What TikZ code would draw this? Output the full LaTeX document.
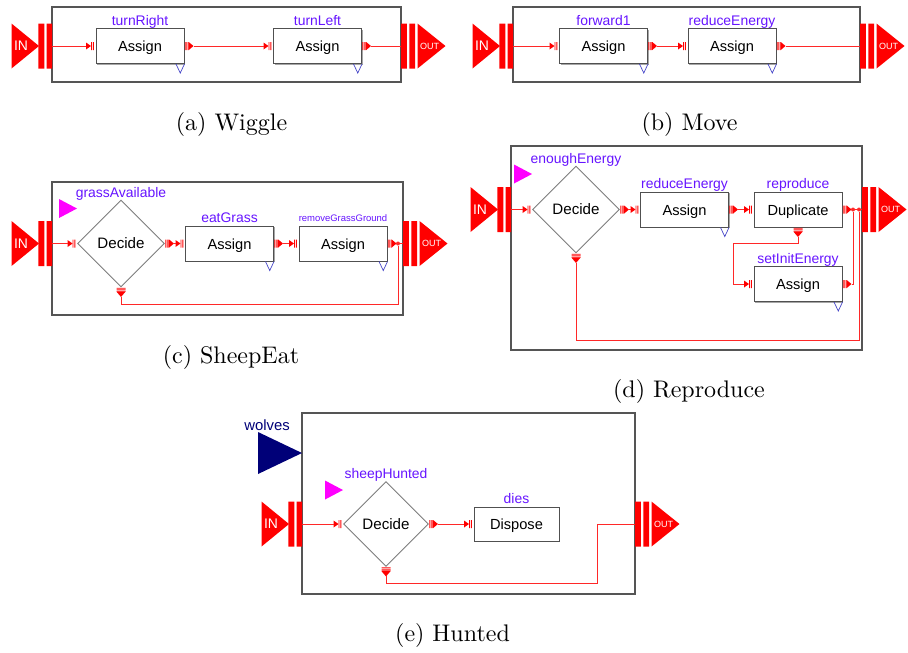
\documentclass[tikz,border=0pt]{standalone}
\usepackage{fontspec}
\newfontfamily\hvsans{Liberation Sans}
\usetikzlibrary{shapes.geometric,shadows}

\definecolor{portred}{RGB}{255,0,0}
\definecolor{wirered}{RGB}{255,40,40}
\definecolor{lblviolet}{RGB}{102,20,255}
\definecolor{framegray}{RGB}{85,85,85}
\definecolor{boxgray}{RGB}{80,80,80}
\definecolor{diagray}{RGB}{125,125,125}
\definecolor{navyport}{RGB}{0,0,120}
\definecolor{agentmag}{RGB}{255,0,255}
\definecolor{cornerblue}{RGB}{70,70,200}

% one drawing unit = one pixel of the 908 x 652 canvas
\newcommand\pxu{0.41667pt}

\tikzset{
  wire/.style={draw=wirered,line width=0.9*\pxu},
  framebox/.style={draw=framegray,line width=1.2*\pxu},
  blk/.style={rectangle,draw=boxgray,fill=white,line width=1*\pxu,
    minimum width=88*\pxu,minimum height=35*\pxu,inner sep=0pt,
    text height=6.1pt,text depth=1.25pt,
    drop shadow={shadow xshift=0.42pt,shadow yshift=-0.42pt,fill=black!35,opacity=1},
    font=\hvsans\fontsize{6.1}{7}\selectfont},
  dnode/.style={diamond,aspect=1,draw=diagray,fill=white,line width=0.9*\pxu,
    minimum width=87*\pxu,minimum height=87*\pxu,inner sep=0pt,
    font=\hvsans\fontsize{6.3}{7}\selectfont},
  lbl/.style={text=lblviolet,anchor=base,inner sep=0pt,
    font=\hvsans\fontsize{5.8}{6}\selectfont},
  captxt/.style={anchor=base,inner sep=0pt,font=\fontsize{10}{12}\selectfont},
  jdot/.style={circle,fill=wirered,inner sep=0pt,minimum size=4*\pxu},
  % small input port: arrow head followed by two bars
  inport/.pic={
    \fill[portred] (-9.5,-3.5) -- (-4.5,0) -- (-9.5,3.5) -- cycle;
    \fill[portred] (-4.5,-4) rectangle (-3.6,4) (-2.6,-4) rectangle (-1.7,4);
    \coordinate (-w) at (-9.5,0);
  },
  % small output port: three bars followed by an arrow head
  outport/.pic={
    \fill[portred] (0.4,-4) rectangle (1.2,4) (1.9,-4) rectangle (2.7,4)
                   (3.4,-4) rectangle (4.2,4);
    \fill[portred] (4.2,-4) -- (9,0) -- (4.2,4) -- cycle;
    \coordinate (-e) at (9,0);
  },
  % output port pointing down
  downport/.pic={
    \fill[portred] (-4.5,0.4) rectangle (4.5,1.2) (-4.5,1.9) rectangle (4.5,2.7)
                   (-4.5,3.4) rectangle (4.5,4.2);
    \fill[portred] (-4.5,4.2) -- (0,9.5) -- (4.5,4.2) -- cycle;
    \coordinate (-s) at (0,9.5);
  },
  % big IN connector on the left side of a frame
  inblock/.pic={
    \fill[portred] (-40.5,-22.5) -- (-13,0) -- (-40.5,22.5) -- cycle;
    \fill[portred] (-13.7,-22.5) rectangle (-7.7,22.5) (-5.3,-22.5) rectangle (0,22.5);
    \node[text=white,inner sep=0pt,font=\hvsans\fontsize{5.8}{6}\selectfont] at (-31,0) {IN};
    \coordinate (-e) at (0,0);
  },
  % big OUT connector on the right side of a frame
  outblock/.pic={
    \fill[portred] (0,-22.5) rectangle (5.8,22.5) (8.3,-22.5) rectangle (14,22.5);
    \fill[portred] (16.5,-22.5) -- (44.5,0) -- (16.5,22.5) -- cycle;
    \node[text=white,inner sep=0pt,font=\hvsans\fontsize{3.75}{4}\selectfont] at (28.5,0) {OUT};
    \coordinate (-w) at (0,0);
  },
  % open triangle under the lower right corner of a block
  corner/.pic={
    \draw[cornerblue,line width=0.7*\pxu] (-8.5,0) -- (-4.25,9) -- (0,0);
  },
  % magenta agent marker
  agent/.pic={
    \fill[agentmag] (-18,-9.5) -- (0,0) -- (-18,9.5) -- cycle;
  },
}

\begin{document}
\begin{tikzpicture}[x=\pxu,y=-\pxu]
\fill[white] (0,0) rectangle (908,652);
\useasboundingbox (0,0) rectangle (908,652);

%%%%%%%%%%%%%%%% (a) Wiggle
\draw[framebox] (52,7) rectangle (401,82);
\pic (aIN) at (52,46) {inblock};
\pic (aOUT) at (401,46) {outblock};
\node[blk] (aR) at (140,46) {Assign};
\node[blk] (aL) at (317.5,46) {Assign};
\foreach \bx in {aR,aL} {
  \pic (\bx i) at (\bx.west) {inport};
  \pic (\bx o) at (\bx.east) {outport};
  \pic at (\bx.south east) {corner};
}
\node[lbl] (aRl) at ([yshift=3*\pxu]aR.north) {turnRight};
\node[lbl] (aLl) at ([yshift=3*\pxu]aL.north) {turnLeft};
\draw[wire] (aIN-e) -- (aRi-w);
\draw[wire] (aRo-e) -- (aLi-w);
\draw[wire] (aLo-e) -- (aOUT-w);
\node[captxt] (capA) at (231.5,130.5) {(a) Wiggle};

%%%%%%%%%%%%%%%% (b) Move
\draw[framebox] (513,7) rectangle (860,82);
\pic (bIN) at (513,46) {inblock};
\pic (bOUT) at (860,46) {outblock};
\node[blk] (bF) at (603.5,46) {Assign};
\node[blk] (bE) at (732,46) {Assign};
\foreach \bx in {bF,bE} {
  \pic (\bx i) at (\bx.west) {inport};
  \pic (\bx o) at (\bx.east) {outport};
  \pic at (\bx.south east) {corner};
}
\node[lbl] (bFl) at ([yshift=3*\pxu]bF.north) {forward1};
\node[lbl] (bEl) at ([yshift=3*\pxu]bE.north) {reduceEnergy};
\draw[wire] (bIN-e) -- (bFi-w);
\draw[wire] (bFo-e) -- (bEi-w);
\draw[wire] (bEo-e) -- (bOUT-w);
\node[captxt] (capB) at (689.5,130.5) {(b) Move};

%%%%%%%%%%%%%%%% (c) SheepEat
\draw[framebox] (52,182) rectangle (403,315);
\pic (cIN) at (52,243.5) {inblock};
\pic (cOUT) at (403,243.5) {outblock};
\node[dnode] (cD) at (121,243.5) {Decide};
\pic (cDi) at (cD.west) {inport};
\pic (cDo) at (cD.east) {outport};
\pic (cDd) at (cD.south) {downport};
\pic at (77,208.5) {agent};
\node[lbl] (cDl) at ([yshift=2.5*\pxu]cD.north) {grassAvailable};
\node[blk] (cE) at (229.5,243.5) {Assign};
\node[blk] (cG) at (343,243.5) {Assign};
\foreach \bx in {cE,cG} {
  \pic (\bx i) at (\bx.west) {inport};
  \pic (\bx o) at (\bx.east) {outport};
  \pic at (\bx.south east) {corner};
}
\node[lbl] (cEl) at ([yshift=3*\pxu]cE.north) {eatGrass};
\node[lbl,font=\hvsans\fontsize{3.95}{4}\selectfont] (cGl) at ([yshift=4*\pxu]cG.north) {removeGrassGround};
\node[jdot] (cJ) at (398,243.5) {};
\coordinate (cLoop) at (398,304);
\draw[wire] (cIN-e) -- (cDi-w);
\draw[wire] (cDo-e) -- (cEi-w);
\draw[wire] (cEo-e) -- (cGi-w);
\draw[wire] (cGo-e) -- (cOUT-w);
\draw[wire] (cDd-s) |- (cLoop) -- (cJ);
\node[captxt] (capC) at (231,363.5) {(c) SheepEat};

%%%%%%%%%%%%%%%% (d) Reproduce
\draw[framebox] (511,146) rectangle (862,350);
\pic (dIN) at (511,209.5) {inblock};
\pic (dOUT) at (862,209.5) {outblock};
\node[dnode] (dD) at (576,209.5) {Decide};
\pic (dDi) at (dD.west) {inport};
\pic (dDo) at (dD.east) {outport};
\pic (dDd) at (dD.south) {downport};
\pic at (532,174) {agent};
\node[lbl] (dDl) at ([yshift=2.5*\pxu]dD.north) {enoughEnergy};
\node[blk] (dR) at (684.5,209.5) {Assign};
\node[blk] (dP) at (798,209.5) {Duplicate};
\node[blk] (dS) at (798,284) {Assign};
\foreach \bx in {dR,dP,dS} {
  \pic (\bx i) at (\bx.west) {inport};
  \pic (\bx o) at (\bx.east) {outport};
}
\pic at (dR.south east) {corner};
\pic at (dS.south east) {corner};
\pic (dPd) at (dP.south) {downport};
\node[lbl] (dRl) at ([yshift=3*\pxu]dR.north) {reduceEnergy};
\node[lbl] (dPl) at ([yshift=3*\pxu]dP.north) {reproduce};
\node[lbl] (dSl) at ([yshift=3*\pxu]dS.north) {setInitEnergy};
\coordinate (dA) at (733,243);
\coordinate (dB) at (859,340);
\draw[wire] (dIN-e) -- (dDi-w);
\draw[wire] (dDo-e) -- (dRi-w);
\draw[wire] (dRo-e) -- (dPi-w);
\draw[wire] (dPo-e) -- (dOUT-w);
\draw[wire] (dPd-s) |- (dA) |- (dSi-w);
\node[jdot] (dJ1) at (853,209.5) {};
\node[jdot] (dJ2) at (859,209.5) {};
\draw[wire] (dSo-e) -| (dJ1);
\draw[wire] (dDd-s) |- (dB) -- (dJ2);
\node[captxt] (capD) at (689,397.5) {(d) Reproduce};

%%%%%%%%%%%%%%%% (e) Hunted
\draw[framebox] (302,413) rectangle (635,594);
\fill[navyport] (258,432) -- (302,453) -- (258,474) -- cycle;
\node[lbl,text=navyport,font=\hvsans\fontsize{6.2}{7}\selectfont] (eW) at (267,430) {wolves};
\pic (eIN) at (302,524) {inblock};
\pic (eOUT) at (635,524) {outblock};
\node[dnode,minimum width=85*\pxu,minimum height=85*\pxu] (eD) at (386,524) {Decide};
\pic (eDi) at (eD.west) {inport};
\pic (eDo) at (eD.east) {outport};
\pic (eDd) at (eD.south) {downport};
\pic at (343,490) {agent};
\node[lbl] (eDl) at ([yshift=2.5*\pxu]eD.north) {sheepHunted};
\node[blk,minimum width=85*\pxu,minimum height=34*\pxu] (eX) at (516.5,524) {Dispose};
\pic (eXi) at (eX.west) {inport};
\node[lbl] (eXl) at ([yshift=3*\pxu]eX.north) {dies};
\coordinate (eB) at (597,583);
\draw[wire] (eIN-e) -- (eDi-w);
\draw[wire] (eDo-e) -- (eXi-w);
\draw[wire] (eDd-s) |- (eB) |- (eOUT-w);
\node[captxt] (capE) at (452.5,641.5) {(e) Hunted};
\end{tikzpicture}
\end{document}
